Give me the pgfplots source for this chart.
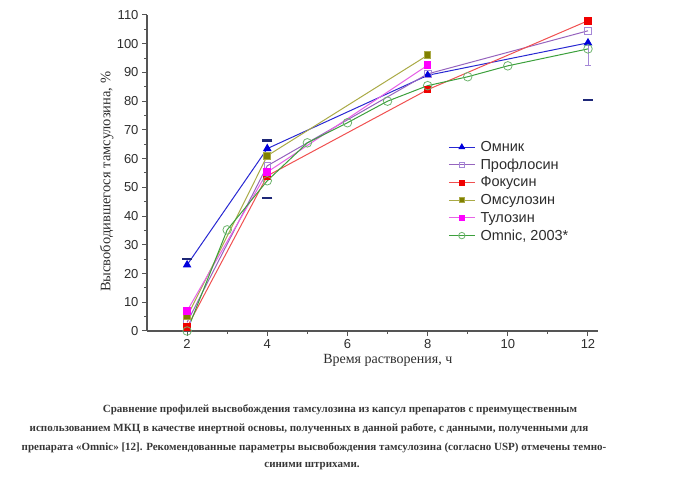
\documentclass[border=0pt]{standalone}
\usepackage{pgfplots}
\pgfplotsset{compat=1.18}
\usepackage{fontspec}
\setmainfont{Liberation Serif}
\setsansfont{Liberation Sans}
\definecolor{axisgray}{RGB}{85,85,85}
\definecolor{labelgray}{RGB}{45,45,45}
\definecolor{captiongray}{RGB}{55,55,55}
\definecolor{omnikline}{RGB}{40,40,210}
\definecolor{omnikmark}{RGB}{0,0,220}
\definecolor{profline}{RGB}{150,100,190}
\definecolor{profmark}{RGB}{165,135,215}
\definecolor{fokline}{RGB}{240,80,80}
\definecolor{fokmark}{RGB}{240,0,0}
\definecolor{omsline}{RGB}{170,170,70}
\definecolor{omsmark}{RGB}{128,128,0}
\definecolor{tulline}{RGB}{230,100,230}
\definecolor{tulmark}{RGB}{255,0,255}
\definecolor{omnicline}{RGB}{60,160,60}
\definecolor{omnicmark}{RGB}{110,180,110}
\definecolor{uspnavy}{RGB}{30,40,120}
\begin{document}
\begin{tikzpicture}[x=1pt,y=1pt]
\path[use as bounding box] (0,0) rectangle (700,481);
\begin{axis}[
  at={(147pt,150pt)}, anchor=south west,
  scale only axis, width=451pt, height=316pt,
  xmin=1, xmax=12.25, ymin=0, ymax=110,
  axis lines*=left,
  axis line style={draw=axisgray, line width=1.3pt},
  xtick={2,4,...,12}, minor xtick={3,5,...,11},
  ytick={0,10,...,110}, minor ytick={5,15,...,105},
  tick align=outside, major tick length=5pt, minor tick length=3pt,
  tick style={axisgray, line width=1pt},
  ticklabel style={font=\sffamily\fontsize{13}{15}\selectfont, text=labelgray},
  /pgf/number format/assume math mode=true,
  xlabel={Время растворения, ч},
  ylabel={Высвободившегося тамсулозина, \%},
  xlabel style={font=\fontsize{14}{16}\selectfont, text=labelgray, at={(rel axis cs:0.534,-0.092)}, anchor=center},
  ylabel style={font=\fontsize{14.5}{16}\selectfont, text=labelgray, at={(rel axis cs:-0.089,0.472)}, anchor=center, rotate=0},
  legend style={at={(0.661,0.611)}, anchor=north west, draw=none, fill=none,
    font=\sffamily\fontsize{14.5}{16}\selectfont, text=labelgray, row sep=3.6pt, column sep=4pt,
    nodes={inner sep=1.2pt}},
  legend cell align=left,
  legend image post style={every mark/.append style={scale=0.75}},
  legend image code/.code={\draw[mark repeat=2,mark phase=2] plot coordinates {(0pt,0pt) (13pt,0pt) (26pt,0pt)};},
  every axis plot/.append style={line width=1pt},
]
\addplot[color=omnikline, mark=triangle*, mark size=4pt, mark options={fill=omnikmark, draw=omnikmark}]
  coordinates {(2,23) (4,63.5) (8,89) (12,100.3)};
\addlegendentry{Омник}
\addplot[color=profline, mark=square, mark size=3.3pt, mark options={fill=white, draw=profmark, line width=0.8pt}]
  coordinates {(2,3) (4,57.5) (8,89.5) (12,104.5)};
\addlegendentry{Профлосин}
\addplot[color=fokline, mark=square*, mark size=3.3pt, mark options={fill=fokmark, draw=fokmark}]
  coordinates {(2,1.3) (4,54) (8,84) (12,108)};
\addlegendentry{Фокусин}
\addplot[color=omsline, mark=square*, mark size=3.3pt, mark options={fill=omsmark, draw=omsline}]
  coordinates {(2,5) (4,61) (8,96)};
\addlegendentry{Омсулозин}
\addplot[color=tulline, mark=square*, mark size=3.3pt, mark options={fill=tulmark, draw=tulmark}]
  coordinates {(2,7) (4,55.3) (8,92.5)};
\addlegendentry{Тулозин}
\addplot[color=omnicline, mark=o, mark size=4.3pt, mark options={fill=white, draw=omnicmark, line width=0.8pt}]
  coordinates {(2,0) (3,35.2) (4,52.3) (5,65.5) (6,72.5) (7,80) (8,85.4) (9,88.5) (10,92.3) (12,98.2)};
\addlegendentry{Omnic, 2003*}
% error bar at 12 h
\addplot[color=profmark, line width=0.8pt, mark=none, forget plot] coordinates {(12,100) (12,92.3)};
\addplot[color=profmark, only marks, mark=-, mark size=3pt, mark options={line width=0.8pt}, forget plot] coordinates {(12,92.3)};
% USP limits
\addplot[color=uspnavy, only marks, mark=-, mark size=5pt, mark options={line width=2.3pt}, forget plot]
  coordinates {(2,25) (4,66.3) (4,46.3) (12,80.5)};
\end{axis}
\begin{scope}[every node/.style={font=\bfseries\fontsize{11}{13}\selectfont, text=captiongray, inner sep=0pt}]
\node at (340,71) {Сравнение профилей высвобождения тамсулозина из капсул препаратов с преимущественным};
\node at (309,52) {использованием МКЦ в качестве инертной основы, полученных в данной работе, с данными, полученными для};
\node at (314,33) {препарата «Omnic» [12]. Рекомендованные параметры высвобождения тамсулозина (согласно USP) отмечены темно-};
\node at (312,15) {синими штрихами.};
\end{scope}
\end{tikzpicture}
\end{document}
